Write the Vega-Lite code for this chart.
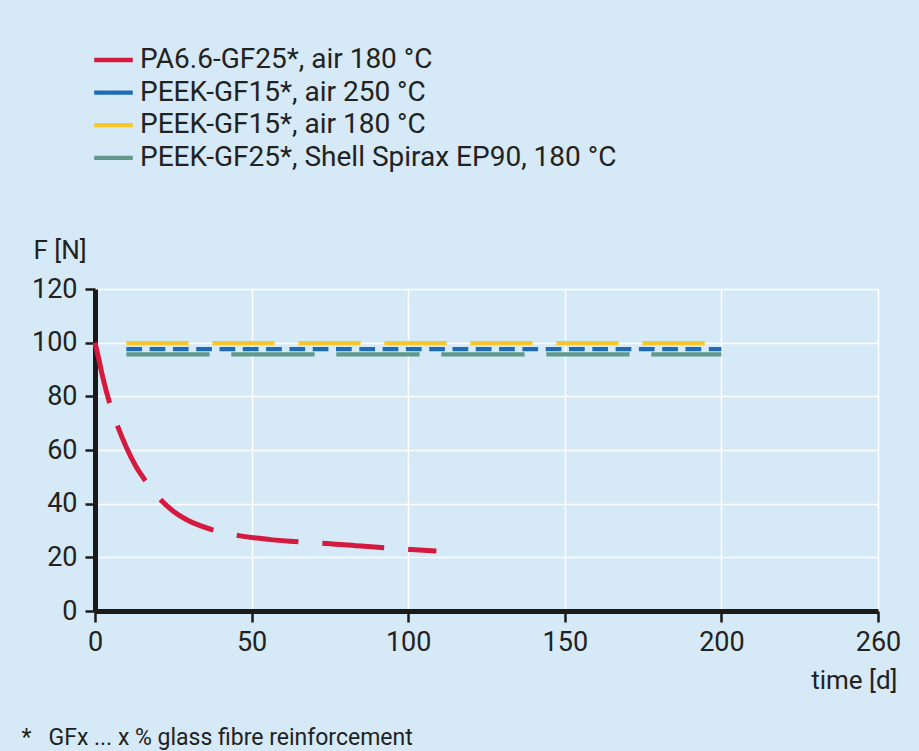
{
  "$schema": "https://vega.github.io/schema/vega-lite/v6.json",
  "width": 783,
  "height": 322,
  "autosize": {"type": "none"},
  "padding": {"left": 95, "top": 289, "right": 41, "bottom": 140},
  "background": "#d5e9f6",
  "title": {
    "text": "*\u00a0\u00a0\u00a0GFx ... x % glass fibre reinforcement",
    "orient": "bottom",
    "anchor": "start",
    "frame": "bounds",
    "font": "Roboto",
    "fontSize": 23,
    "fontWeight": "normal",
    "color": "#222222",
    "baseline": "alphabetic",
    "offset": 52,
    "dx": -10
  },
  "data": {
    "values": [
      {"series": "PA6.6-GF25*, air 180 °C", "t": 0, "F": 100},
      {"series": "PA6.6-GF25*, air 180 °C", "t": 1, "F": 95},
      {"series": "PA6.6-GF25*, air 180 °C", "t": 2.5, "F": 87},
      {"series": "PA6.6-GF25*, air 180 °C", "t": 4.8, "F": 77},
      {"series": "PA6.6-GF25*, air 180 °C", "t": 7.4, "F": 68.3},
      {"series": "PA6.6-GF25*, air 180 °C", "t": 10, "F": 61},
      {"series": "PA6.6-GF25*, air 180 °C", "t": 13, "F": 54},
      {"series": "PA6.6-GF25*, air 180 °C", "t": 16.7, "F": 47.6},
      {"series": "PA6.6-GF25*, air 180 °C", "t": 21.6, "F": 40.7},
      {"series": "PA6.6-GF25*, air 180 °C", "t": 25, "F": 37.2},
      {"series": "PA6.6-GF25*, air 180 °C", "t": 29.3, "F": 34},
      {"series": "PA6.6-GF25*, air 180 °C", "t": 34, "F": 31.6},
      {"series": "PA6.6-GF25*, air 180 °C", "t": 38.6, "F": 29.9},
      {"series": "PA6.6-GF25*, air 180 °C", "t": 46.3, "F": 28},
      {"series": "PA6.6-GF25*, air 180 °C", "t": 55.9, "F": 26.6},
      {"series": "PA6.6-GF25*, air 180 °C", "t": 66, "F": 25.7},
      {"series": "PA6.6-GF25*, air 180 °C", "t": 73.8, "F": 25.2},
      {"series": "PA6.6-GF25*, air 180 °C", "t": 85, "F": 24.2},
      {"series": "PA6.6-GF25*, air 180 °C", "t": 93.3, "F": 23.5},
      {"series": "PA6.6-GF25*, air 180 °C", "t": 101, "F": 22.9},
      {"series": "PA6.6-GF25*, air 180 °C", "t": 109, "F": 22.3},
      {"series": "PEEK-GF15*, air 250 °C", "t": 10, "F": 97.6},
      {"series": "PEEK-GF15*, air 250 °C", "t": 200, "F": 97.6},
      {"series": "PEEK-GF15*, air 180 °C", "t": 10, "F": 99.8},
      {"series": "PEEK-GF15*, air 180 °C", "t": 200, "F": 99.8},
      {"series": "PEEK-GF25*, Shell Spirax EP90, 180 °C", "t": 10, "F": 95.6},
      {"series": "PEEK-GF25*, Shell Spirax EP90, 180 °C", "t": 200, "F": 95.6}
    ]
  },
  "encoding": {
    "x": {
      "field": "t",
      "type": "quantitative",
      "scale": {"domain": [0, 250], "nice": false, "zero": true},
      "axis": {
        "title": "time [d]",
        "values": [0, 50, 100, 150, 200, 250],
        "labelExpr": "datum.value == 250 ? '260' : datum.label",
        "titleX": 802,
        "titleY": 77,
        "titleAlign": "right",
        "titleBaseline": "alphabetic",
        "titleAnchor": null,
        "labelBaseline": "top",
        "labelPadding": 7,
        "tickSize": 11,
        "labelFlush": false,
        "labelOverlap": false
      }
    },
    "y": {
      "field": "F",
      "type": "quantitative",
      "scale": {"domain": [0, 120], "nice": false},
      "axis": {
        "title": "F [N]",
        "values": [0, 20, 40, 60, 80, 100, 120],
        "titleAngle": 0,
        "titleX": -62,
        "titleY": -31,
        "titleAlign": "left",
        "titleBaseline": "alphabetic",
        "titleAnchor": null,
        "tickSize": 10,
        "labelPadding": 8,
        "labelBaseline": "middle",
        "labelFlush": false,
        "labelOverlap": false
      }
    },
    "color": {
      "field": "series",
      "type": "nominal",
      "sort": null,
      "scale": {
        "domain": ["PA6.6-GF25*, air 180 °C", "PEEK-GF15*, air 250 °C", "PEEK-GF15*, air 180 °C", "PEEK-GF25*, Shell Spirax EP90, 180 °C"],
        "range": ["#d51a3f", "#1f6cb5", "#f7c82a", "#5f9a8b"]
      },
      "legend": {
        "title": null,
        "orient": "none",
        "legendX": -3,
        "legendY": -242,
        "symbolType": "stroke",
        "symbolSize": 1490,
        "symbolStrokeWidth": 4.3,
        "symbolDash": [1, 0],
        "labelFontSize": 28,
        "labelOffset": 5,
        "clipHeight": 26,
        "rowPadding": 4.6,
        "padding": 0
      }
    }
  },
  "layer": [
    {
      "transform": [{"filter": "datum.series == 'PA6.6-GF25*, air 180 °C'"}],
      "mark": {"type": "line", "interpolate": "monotone", "strokeCap": "butt", "strokeDash": [62, 24], "strokeWidth": 5}
    },
    {
      "transform": [{"filter": "datum.series == 'PEEK-GF15*, air 250 °C'"}],
      "mark": {"type": "line", "strokeCap": "butt", "strokeDash": [15.7, 7.6], "strokeWidth": 4.3}
    },
    {
      "transform": [{"filter": "datum.series == 'PEEK-GF15*, air 180 °C'"}],
      "mark": {"type": "line", "strokeCap": "butt", "strokeDash": [62.3, 23.7], "strokeWidth": 4.3}
    },
    {
      "transform": [{"filter": "datum.series == 'PEEK-GF25*, Shell Spirax EP90, 180 °C'"}],
      "mark": {"type": "line", "strokeCap": "butt", "strokeDash": [83.3, 21.7], "strokeWidth": 4.3}
    }
  ],
  "config": {
    "font": "Roboto",
    "view": {"stroke": null},
    "axis": {
      "domainColor": "#1a1a1a",
      "domainWidth": 5,
      "tickColor": "#1a1a1a",
      "tickWidth": 2.5,
      "gridColor": "#ffffff",
      "gridWidth": 1.5,
      "gridOpacity": 1,
      "labelFont": "Roboto",
      "labelFontSize": 27,
      "labelColor": "#222222",
      "titleFont": "Roboto",
      "titleFontSize": 26,
      "titleFontWeight": "normal",
      "titleColor": "#222222"
    },
    "legend": {
      "labelFont": "Roboto",
      "labelColor": "#222222",
      "labelLimit": 0
    }
  }
}
